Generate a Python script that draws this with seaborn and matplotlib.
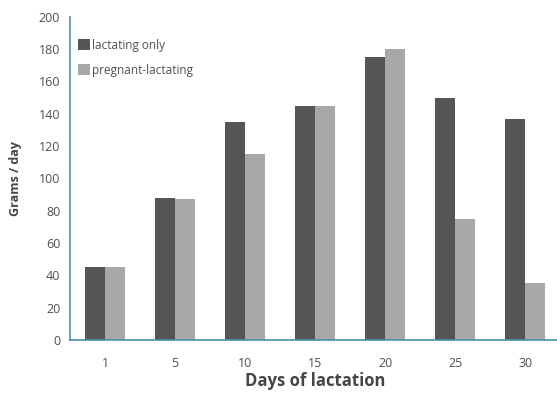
import pandas as pd
import seaborn as sns
import matplotlib.pyplot as plt
import numpy as np

# values
days = ['1', '5', '10', '15', '20', '25', '30']
lactating_only = [45, 88, 135, 145, 175, 150, 137]
pregnant_lactating = [45, 87, 115, 145, 180, 75, 35]
series_names = ['lactating only', 'pregnant-lactating']

df = pd.DataFrame({
    'day': days * 2,
    'grams': lactating_only + pregnant_lactating,
    'group': [series_names[0]] * len(days) + [series_names[1]] * len(days),
})

sns.set_style('white')
plt.rcParams['font.family'] = ['Open Sans', 'DejaVu Sans']

axis_col = '#4b8fa8'
text_col = '#505050'

fig = plt.figure(figsize=(5.57, 4.01), dpi=100)
ax = fig.add_axes([0.1257, 0.152, 0.88, 0.806])

sns.barplot(data=df, x='day', y='grams', hue='group', order=days,
            hue_order=series_names, palette=['#555555', '#a8a8a8'],
            width=0.58, gap=0, saturation=1, linewidth=0, ax=ax, legend=True)

ax.set_ylim(0, 200)
ax.set_xlim(-0.5, 6.5)
ax.set_yticks(np.arange(0, 201, 20))
ax.tick_params(axis='y', length=4, color=axis_col, labelsize=9, labelcolor=text_col, pad=3)
ax.tick_params(axis='x', length=0, labelsize=9, labelcolor=text_col, pad=12)
ax.set_xticks(np.arange(-0.5, 7, 1), minor=True)
ax.tick_params(axis='x', which='minor', length=4, color=axis_col, direction='out')

for side in ['top', 'right']:
    ax.spines[side].set_visible(False)
for side in ['left', 'bottom']:
    ax.spines[side].set_color(axis_col)
    ax.spines[side].set_linewidth(1.2)

ax.set_xlabel('Days of lactation', fontsize=12, fontweight='bold', color='#454545', labelpad=2)
ax.set_ylabel('Grams / day', fontsize=9, fontweight='bold', color='#454545', labelpad=12)

leg = ax.legend(loc='upper left', bbox_to_anchor=(-0.005, 0.965), frameon=False,
                fontsize=8.5, handlelength=1.0, handleheight=1.0, handletextpad=0.2,
                labelspacing=1.0)
for t in leg.get_texts():
    t.set_color(text_col)

fig.savefig('out.png', dpi=100)
